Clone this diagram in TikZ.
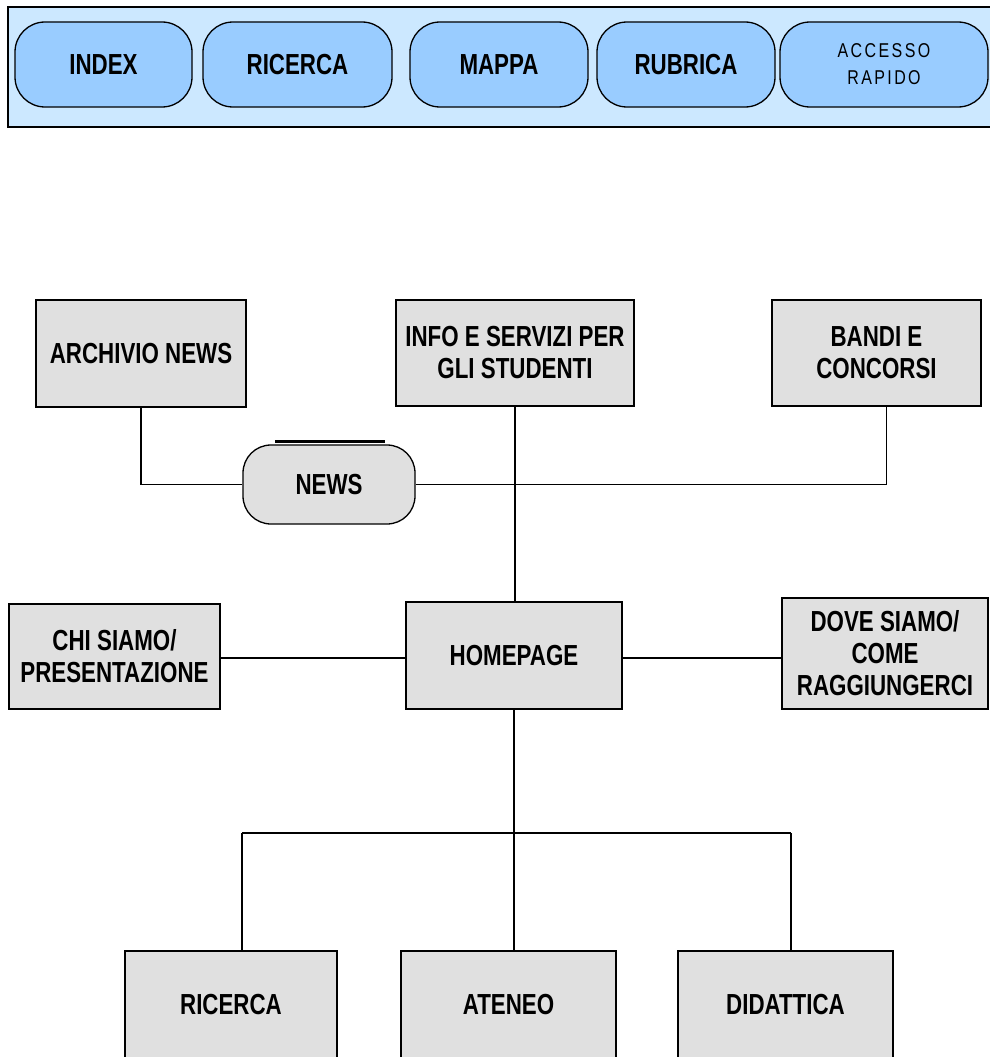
\documentclass[tikz,border=0pt]{standalone}
\usepackage{fontspec}
\setmainfont{Liberation Sans}
\newfontfamily\boxfont{Liberation Sans}[FakeStretch=0.77]
\newfontfamily\accfont{Liberation Sans}[FakeStretch=0.8,LetterSpace=12]
\definecolor{barblue}{HTML}{CCE8FF}
\definecolor{pillblue}{HTML}{99CCFF}
\definecolor{boxgray}{HTML}{E0E0E0}
\begin{document}
\begin{tikzpicture}[x=1pt,y=-1pt,
  box/.style={draw=black, line width=1.6pt, fill=boxgray, inner sep=0pt, align=center,
    font=\boxfont\bfseries\fontsize{29}{32}\selectfont},
  pill/.style={draw=black, line width=1.3pt, fill=pillblue, rounded corners=30pt,
    inner sep=0pt, align=center, minimum height=85pt,
    font=\boxfont\bfseries\fontsize{29}{32}\selectfont},
  acc/.style={font=\accfont\fontsize{20}{27}\selectfont},
  conn/.style={draw=black, line width=1.6pt}]
\useasboundingbox (0,0) rectangle (990,1057);
\clip (0,0) rectangle (990,1057);
\fill[white] (0,0) rectangle (990,1057);

% top navigation bar
\draw[line width=1.6pt, fill=barblue] (8,7) rectangle (1010,127);
\node[pill, minimum width=177pt] (index) at (103.5,64.5) {INDEX};
\node[pill, minimum width=189pt] (ricnav) at (297.5,64.5) {RICERCA};
\node[pill, minimum width=178pt] (mappa) at (499,64.5) {MAPPA};
\node[pill, minimum width=178pt] (rubrica) at (686,64.5) {RUBRICA};
\node[pill, acc, minimum width=208pt] (accesso) at (884,64.5) {ACCESSO\\RAPIDO};

% upper row
\node[box, minimum width=210pt, minimum height=107pt] (arch) at (141,353.5) {ARCHIVIO NEWS};
\node[box, minimum width=238pt, minimum height=106pt] (info) at (515,353) {INFO E SERVIZI PER\\GLI STUDENTI};
\node[box, minimum width=209pt, minimum height=106pt] (bandi) at (876.5,353) {BANDI E\\CONCORSI};
\node[pill, fill=boxgray, minimum width=172pt, minimum height=79pt, rounded corners=28pt] (news) at (329,484.5) {NEWS};
\draw[line width=3pt] ([shift={(-54,-3)}]news.north) -- ([shift={(56,-3)}]news.north);

% middle row
\node[box, minimum width=211pt, minimum height=105pt] (chi) at (114.5,656.5) {CHI SIAMO/\\PRESENTAZIONE};
\node[box, minimum width=216pt, minimum height=107pt] (home) at (514,655.5) {HOMEPAGE};
\node[box, minimum width=206pt, minimum height=111pt] (dove) at (885,653.5) {DOVE SIAMO/\\COME\\RAGGIUNGERCI};

% bottom row
\node[box, minimum width=212pt, minimum height=108pt] (ric) at (231,1005) {RICERCA};
\node[box, minimum width=215pt, minimum height=108pt] (ate) at (508.5,1005) {ATENEO};
\node[box, minimum width=215pt, minimum height=108pt] (did) at (785.5,1005) {DIDATTICA};

% connectors
\draw[conn] (arch.south) |- (news.west);
\draw[conn] (news.east) -| ([xshift=10pt]bandi.south);
\draw[conn] (info.south) -- (info.south |- home.north);
\draw[conn] (chi.east |- 0,658) -- (home.west |- 0,658);
\draw[conn] (home.east |- 0,658) -- (dove.west |- 0,658);
\coordinate (jl) at (242,833);
\coordinate (jr) at (791,833);
\draw[conn] (jl) -- (jr);
\draw[conn] (home.south) -- (home.south |- ate.north);
\draw[conn] (jl) -- (jl |- ric.north);
\draw[conn] (jr) -- (jr |- did.north);
\end{tikzpicture}
\end{document}
